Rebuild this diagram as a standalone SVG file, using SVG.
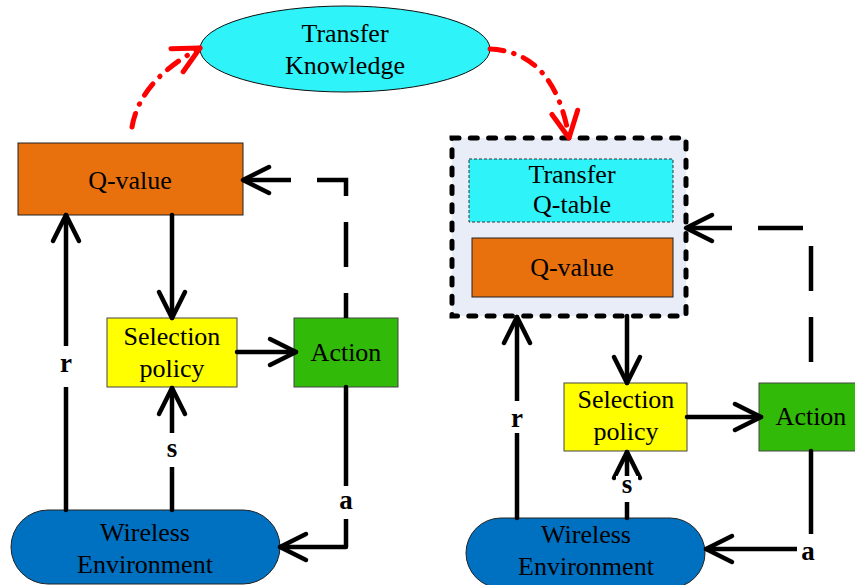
<svg xmlns="http://www.w3.org/2000/svg" width="855" height="585" viewBox="0 0 855 585">
<style>
.t{font-family:"Liberation Serif","Times New Roman",serif;font-size:26px;fill:#000;text-anchor:middle}
.lb{font-family:"Liberation Serif","Times New Roman",serif;font-size:27px;font-weight:bold;fill:#000;text-anchor:middle}
.c{fill:none;stroke:#000;stroke-width:4.5;stroke-linecap:round;stroke-linejoin:round}
.d{stroke-dasharray:45 26;stroke-linecap:butt;stroke-linejoin:miter}
.r{fill:none;stroke:#f00;stroke-width:5;stroke-linecap:round;stroke-dasharray:14 10 0.5 10}
.orange{fill:#E8710E;stroke:#222;stroke-width:1}
.yellow{fill:#FFFF00;stroke:#444;stroke-width:1}
.green{fill:#31BA08;stroke:#444;stroke-width:1}
.blue{fill:#0070C0;stroke:#222;stroke-width:1}
.cyan{fill:#2EF3F8}
</style>
<defs>
<marker id="ah" markerUnits="userSpaceOnUse" viewBox="-32 -20 40 40" markerWidth="40" markerHeight="40" refX="0" refY="0" orient="auto">
<path d="M-26,-13 L0,0 L-26,13" fill="none" stroke="#000" stroke-width="4.5" stroke-linecap="round" stroke-linejoin="round"/>
</marker>
<marker id="ahr" markerUnits="userSpaceOnUse" viewBox="-32 -20 40 40" markerWidth="40" markerHeight="40" refX="0" refY="0" orient="auto">
<path d="M-26,-13 L0,0 L-26,13" fill="none" stroke="#f00" stroke-width="5" stroke-linecap="round" stroke-linejoin="round"/>
</marker>
</defs>

<g id="transfer-knowledge">
<ellipse cx="345" cy="49" rx="145" ry="43" class="cyan" stroke="#111" stroke-width="1"/>
<text class="t" x="345" y="42">Transfer</text>
<text class="t" x="345" y="74">Knowledge</text>
</g>

<g id="qvalue-left">
<rect x="18" y="143" width="225" height="72" class="orange"/>
<text class="t" x="130" y="189">Q-value</text>
</g>
<g id="selection-left">
<rect x="107" y="318" width="130" height="69" class="yellow"/>
<text class="t" x="172" y="345">Selection</text>
<text class="t" x="172" y="377">policy</text>
</g>
<g id="action-left">
<rect x="294" y="318" width="104" height="69" class="green"/>
<text class="t" x="346" y="361">Action</text>
</g>
<g id="env-left">
<rect x="11" y="510" width="269" height="74" rx="37" class="blue"/>
<text class="t" x="145" y="541">Wireless</text>
<text class="t" x="145" y="573">Environment</text>
</g>

<g id="container-right">
<rect x="452" y="138" width="234" height="178" fill="#E8EDF8" stroke="#000" stroke-width="5" stroke-dasharray="7 11.3" stroke-linecap="round"/>
</g>
<g id="transfer-qtable">
<rect x="469" y="159" width="204" height="63" class="cyan" stroke="#333" stroke-width="1" stroke-dasharray="3 2"/>
<text class="t" x="572" y="183">Transfer</text>
<text class="t" x="572" y="213">Q-table</text>
</g>
<g id="qvalue-right">
<rect x="472" y="238" width="201" height="59" class="orange"/>
<text class="t" x="572" y="276">Q-value</text>
</g>
<g id="selection-right">
<rect x="564" y="383" width="123" height="68" class="yellow"/>
<text class="t" x="626" y="408">Selection</text>
<text class="t" x="626" y="440">policy</text>
</g>
<g id="action-right">
<rect x="759" y="383" width="104" height="68" class="green"/>
<text class="t" x="811" y="425">Action</text>
</g>
<g id="env-right">
<rect x="466" y="518" width="239" height="70" rx="35" class="blue"/>
<text class="t" x="586" y="543">Wireless</text>
<text class="t" x="586" y="575">Environment</text>
</g>

<g id="connectors">
<path class="r" d="M132,127 Q140,80 200,48" marker-end="url(#ahr)"/>
<path class="r" d="M490,49 Q555,52 569,138" marker-end="url(#ahr)"/>

<path class="c" d="M172,215 L172,318" marker-end="url(#ah)"/>
<path class="c" d="M66,510 L66,215" marker-end="url(#ah)"/>
<path class="c" d="M237,352 L296,352" marker-end="url(#ah)"/>
<path class="c" d="M172,510 L172,388" marker-end="url(#ah)"/>
<path class="c" d="M346,387 L346,547 L280,547" marker-end="url(#ah)"/>
<path class="c d" d="M346,318 L346,180 L243,180" stroke-dashoffset="20" marker-end="url(#ah)"/>

<path class="c" d="M627,316 L627,383" marker-end="url(#ah)"/>
<path class="c" d="M517,518 L517,317" marker-end="url(#ah)"/>
<path class="c" d="M687,417 L761,417" marker-end="url(#ah)"/>
<path class="c" d="M627,518 L627,452" marker-end="url(#ah)"/>
<path class="c" d="M811,451 L811,549 L706,549" marker-end="url(#ah)"/>
<path class="c d" d="M811,383 L811,228 L686,228" stroke-dashoffset="50" marker-end="url(#ah)"/>
</g>

<g id="labels">
<rect x="55" y="346" width="22" height="41" fill="#fff"/>
<text class="lb" x="66" y="372">r</text>
<rect x="161" y="433" width="22" height="34" fill="#fff"/>
<text class="lb" x="172" y="457">s</text>
<rect x="334" y="486" width="24" height="33" fill="#fff"/>
<text class="lb" x="346" y="509">a</text>
<rect x="506" y="401" width="22" height="32" fill="#fff"/>
<text class="lb" x="517" y="427">r</text>
<rect x="616" y="476" width="22" height="26" fill="#fff"/>
<text class="lb" x="627" y="493">s</text>
<rect x="797" y="534" width="24" height="30" fill="#fff"/>
<text class="lb" x="808" y="560">a</text>
</g>
</svg>
